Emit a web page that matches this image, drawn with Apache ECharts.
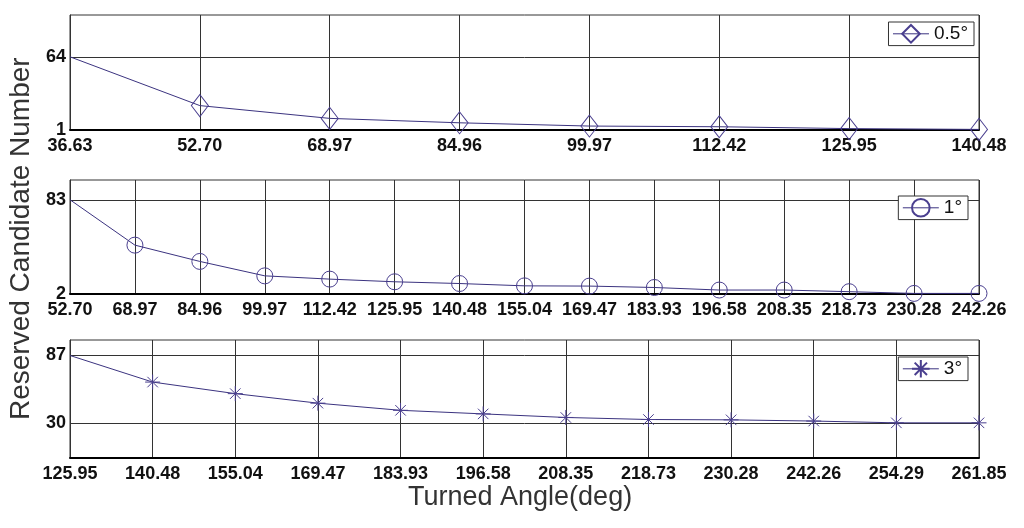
<!DOCTYPE html>
<html>
<head>
<meta charset="utf-8">
<script src="https://cdn.jsdelivr.net/npm/echarts@6/dist/echarts.min.js"></script>
<style>html,body{margin:0;padding:0;background:#fff;}#c{width:1024px;height:528px;}</style>
</head>
<body>
<div id="c"></div>
<script>
// ---- data ----
const cats05 = ['36.63','52.70','68.97','84.96','99.97','112.42','125.95','140.48'];
const vals05 = [64, 22, 11, 7.2, 4.4, 3.8, 2.2, 1.5];
const ticks05 = [1, 64];

const cats1 = ['52.70','68.97','84.96','99.97','112.42','125.95','140.48','155.04','169.47','183.93','196.58','208.35','218.73','230.28','242.26'];
const vals1 = [83, 44, 30, 17.6, 14.8, 12.5, 11, 9, 8.8, 7.6, 5.4, 5.4, 4, 2.5, 2.5];
const ticks1 = [2, 83];

const cats3 = ['125.95','140.48','155.04','169.47','183.93','196.58','208.35','218.73','230.28','242.26','254.29','261.85'];
const vals3 = [87, 64.7, 55, 47, 41, 38, 35, 33.3, 33, 32, 30.5, 30.5];
const ticks3 = [30, 87];

const names = ['0.5°', '1°', '3°'];

// ---- chart ----
const lineColor = '#3b3380';
const markColor = '#4a3f8f';
const gridColor = '#333';
const starPath = 'path://M0 5L10 5M5 0L5 10M1.5 1.5L8.5 8.5M1.5 8.5L8.5 1.5';

const grids = [
  {left: 70, right: 45, top: 15, height: 115},
  {left: 70, right: 45, top: 180, height: 114},
  {left: 70, right: 45, top: 340, height: 118}
];

function xAxis(i, cats) {
  return {
    type: 'category', gridIndex: i, data: cats, boundaryGap: false,
    axisLine: {show: true, lineStyle: {color: '#000', width: 2}},
    axisTick: {show: false},
    splitLine: {show: true, lineStyle: {color: gridColor, width: 1}},
    axisLabel: {interval: 0, margin: 7, color: '#111', fontFamily: 'Liberation Sans, Arial', fontWeight: 'bold', fontSize: 18}
  };
}
function yAxis(i, min, max, tv) {
  return {
    type: 'value', gridIndex: i, min: min, max: max,
    axisLine: {show: true, lineStyle: {color: gridColor, width: 1}},
    axisTick: {show: false, customValues: tv},
    splitLine: {show: true, lineStyle: {color: gridColor, width: 1}},
    axisLabel: {customValues: tv, margin: 4, color: '#111', fontFamily: 'Liberation Sans, Arial', fontWeight: 'bold', fontSize: 18}
  };
}
function series(i, name, vals, symbol, size) {
  return {
    type: 'line', name: name, xAxisIndex: i, yAxisIndex: i, data: vals,
    symbol: symbol,
    symbolSize: function (v, p) { return p.dataIndex === 0 ? 0 : size; },
    showSymbol: true, showAllSymbol: true, clip: false,
    lineStyle: {color: lineColor, width: 1},
    itemStyle: {color: 'rgba(0,0,0,0)', borderColor: markColor, borderWidth: 1},
    emphasis: {disabled: true},
    z: 5
  };
}
function legend(name, top, right) {
  return {
    data: [name], top: top, right: right,
    backgroundColor: '#fff', borderColor: '#333', borderWidth: 1,
    padding: [2, 6, 2, 4], itemWidth: 36, itemHeight: 22, itemGap: 4,
    lineStyle: {width: 1},
    textStyle: {fontFamily: 'Liberation Sans, Arial', fontSize: 19, color: '#111'},
    selectedMode: false
  };
}

const option = {
  animation: false,
  backgroundColor: '#fff',
  grid: grids.map(g => Object.assign({show: true, borderColor: gridColor, borderWidth: 1}, g)),
  xAxis: [xAxis(0, cats05), xAxis(1, cats1), xAxis(2, cats3)],
  yAxis: [yAxis(0, 1, 100, ticks05), yAxis(1, 2, 100, ticks1), yAxis(2, 1, 100, ticks3)],
  legend: [legend(names[0], 22, 50), legend(names[1], 196, 56), legend(names[2], 357, 56)],
  series: [
    series(0, names[0], vals05, 'diamond', [17, 22]),
    series(1, names[1], vals1, 'circle', 16),
    series(2, names[2], vals3, starPath, 15)
  ],
  graphic: [
    {type: 'text', left: 408, top: 484, style: {text: 'Turned Angle(deg)', font: '27px "Liberation Sans", Arial', fill: '#333'}},
    {type: 'text', x: 7, y: 420, rotation: Math.PI / 2, style: {text: 'Reserved Candidate Number', font: '28px "Liberation Sans", Arial', fill: '#333', textVerticalAlign: 'top'}}
  ]
};
const chart = echarts.init(document.getElementById('c'), null, {renderer: 'canvas'});
chart.setOption(option);
</script>
</body>
</html>
